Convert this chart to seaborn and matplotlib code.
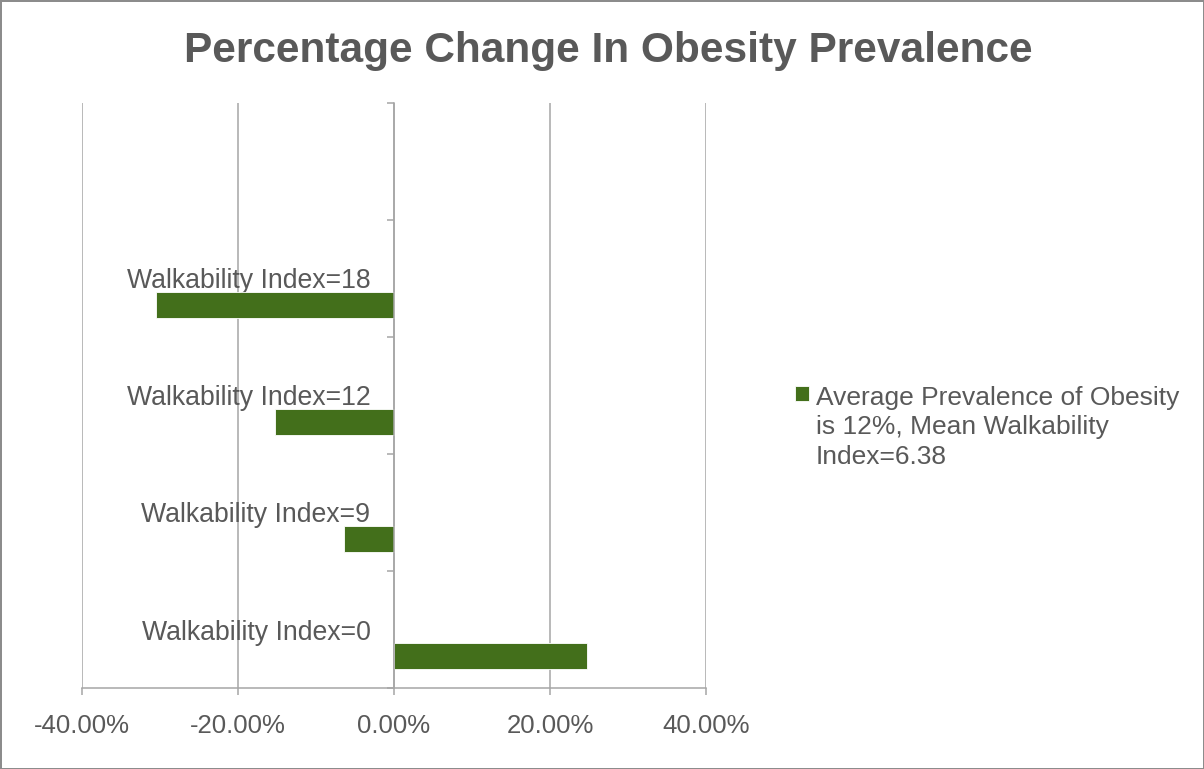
import matplotlib
matplotlib.use("Agg")
import matplotlib.pyplot as plt
import seaborn as sns
import pandas as pd
from matplotlib.ticker import PercentFormatter, FixedLocator

# data
categories = ["Walkability Index=18", "Walkability Index=12", "Walkability Index=9", "Walkability Index=0"]
pct_change = [-0.305, -0.152, -0.064, 0.247]
series_name = "Average Prevalence of Obesity\nis 12%, Mean Walkability\nIndex=6.38"

GREEN = "#436f1b"
TEXT = "#595959"
GRID = "#a6a6a6"

sns.set_theme(style="white")
plt.rcParams["font.family"] = ["Liberation Sans", "DejaVu Sans"]
plt.rcParams["axes.unicode_minus"] = False

df = pd.DataFrame({"category": categories, "change": pct_change})

fig = plt.figure(figsize=(12.04, 7.69), dpi=100, linewidth=2, edgecolor="#8c8c8c")
ax = fig.add_axes([82 / 1204, 1 - 688 / 769, 624 / 1204, 585 / 769])

sns.barplot(data=df, y="category", x="change", orient="h", color=GREEN,
            width=0.22, saturation=1, ax=ax, label=series_name,
            edgecolor="white", linewidth=0.6)
if ax.get_legend() is not None:
    ax.get_legend().remove()
# Excel-style clustered offset: bar sits below the category label
for p in ax.patches:
    p.set_y(p.get_y() + 0.226)

ax.set_xlim(-0.4, 0.4)
ax.set_ylim(len(categories) - 0.5, -1.5)
ax.xaxis.set_major_locator(FixedLocator([-0.4, -0.2, 0.0, 0.2, 0.4]))
ax.xaxis.set_major_formatter(PercentFormatter(xmax=1, decimals=2))
ax.set_xlabel("")
ax.set_ylabel("")

ax.grid(axis="x", color=GRID, linewidth=1.1)
ax.grid(axis="y", visible=False)
ax.set_axisbelow(True)

for side in ["top", "right"]:
    ax.spines[side].set_visible(False)
ax.spines["left"].set_position(("data", 0))
ax.spines["left"].set_color(GRID)
ax.spines["left"].set_linewidth(1.1)
ax.spines["bottom"].set_color(GRID)
ax.spines["bottom"].set_linewidth(1.1)

ax.tick_params(axis="x", which="major", direction="out", length=5, width=1.1,
               color=GRID, labelsize=18.5, labelcolor=TEXT, pad=14, bottom=True)
ax.tick_params(axis="y", which="major", length=0, labelsize=19.2, labelcolor=TEXT, pad=17, left=True)
ax.yaxis.set_minor_locator(FixedLocator([i - 0.5 for i in range(-1, len(categories) + 1)]))
ax.tick_params(axis="y", which="minor", direction="out", length=5, width=1.1, color=GRID, left=True)

fig.suptitle("Percentage Change In Obesity Prevalence", x=0.505, y=0.960,
             fontsize=30.5, fontweight="bold", color=TEXT)

handles, labels = ax.get_legend_handles_labels()
leg = fig.legend(handles, labels, loc="upper left", bbox_to_anchor=(784 / 1204, 1 - 375 / 769),
                 frameon=False, fontsize=19, handlelength=0.55, handleheight=0.55,
                 handletextpad=0.25, borderaxespad=0)
for t in leg.get_texts():
    t.set_color(TEXT)
    t.set_linespacing(1.3)
for col in leg._legend_handle_box.get_children():
    for hp in col.get_children():
        hp.align = "top"

fig.savefig("out.png", dpi=100, edgecolor=fig.get_edgecolor())
